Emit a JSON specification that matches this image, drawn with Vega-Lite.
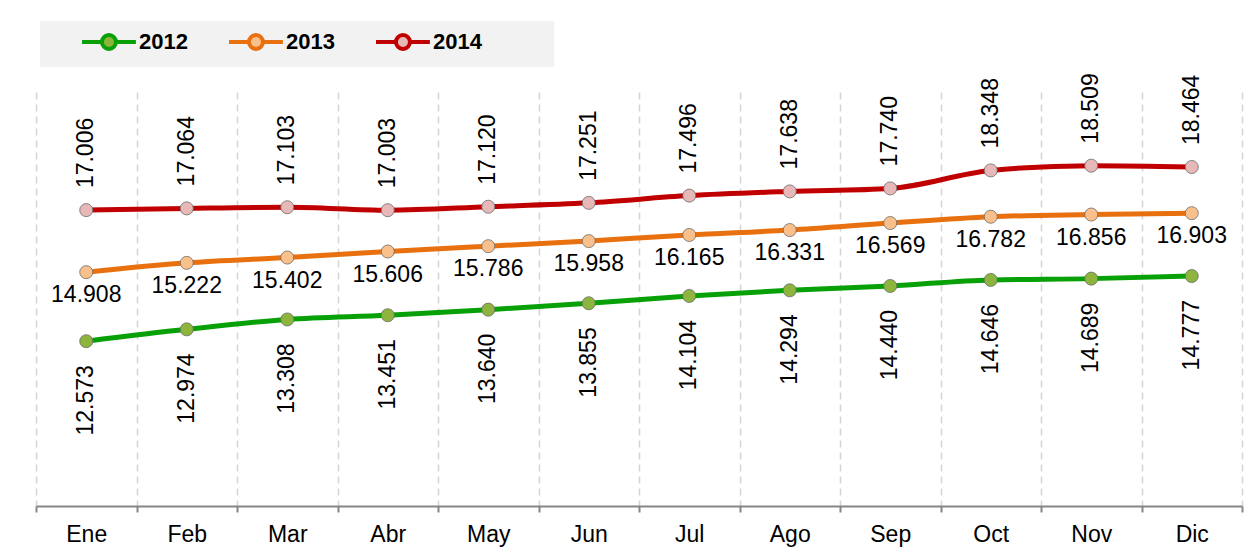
{
  "$schema": "https://vega.github.io/schema/vega-lite/v6.json",
  "autosize": {"type": "none"},
  "width": 1206,
  "height": 414,
  "padding": {"left": 36, "top": 92, "right": 5, "bottom": 53},
  "background": "white",
  "config": {
    "view": {"stroke": null},
    "font": "Liberation Sans",
    "axis": {
      "domainColor": "#868686", "domainWidth": 2,
      "tickColor": "#868686", "tickWidth": 2, "tickSize": 6,
      "gridColor": "#D4D4D4", "gridDash": [7, 5], "gridWidth": 1.5,
      "labelFont": "Liberation Sans", "labelFontSize": 23, "labelColor": "#000000",
      "labelPadding": 11
    }
  },
  "data": {
    "values": [
      {"month": "Ene", "year": "2012", "value": 12.573},
      {"month": "Feb", "year": "2012", "value": 12.974},
      {"month": "Mar", "year": "2012", "value": 13.308},
      {"month": "Abr", "year": "2012", "value": 13.451},
      {"month": "May", "year": "2012", "value": 13.640},
      {"month": "Jun", "year": "2012", "value": 13.855},
      {"month": "Jul", "year": "2012", "value": 14.104},
      {"month": "Ago", "year": "2012", "value": 14.294},
      {"month": "Sep", "year": "2012", "value": 14.440},
      {"month": "Oct", "year": "2012", "value": 14.646},
      {"month": "Nov", "year": "2012", "value": 14.689},
      {"month": "Dic", "year": "2012", "value": 14.777},
      {"month": "Ene", "year": "2013", "value": 14.908},
      {"month": "Feb", "year": "2013", "value": 15.222},
      {"month": "Mar", "year": "2013", "value": 15.402},
      {"month": "Abr", "year": "2013", "value": 15.606},
      {"month": "May", "year": "2013", "value": 15.786},
      {"month": "Jun", "year": "2013", "value": 15.958},
      {"month": "Jul", "year": "2013", "value": 16.165},
      {"month": "Ago", "year": "2013", "value": 16.331},
      {"month": "Sep", "year": "2013", "value": 16.569},
      {"month": "Oct", "year": "2013", "value": 16.782},
      {"month": "Nov", "year": "2013", "value": 16.856},
      {"month": "Dic", "year": "2013", "value": 16.903},
      {"month": "Ene", "year": "2014", "value": 17.006},
      {"month": "Feb", "year": "2014", "value": 17.064},
      {"month": "Mar", "year": "2014", "value": 17.103},
      {"month": "Abr", "year": "2014", "value": 17.003},
      {"month": "May", "year": "2014", "value": 17.120},
      {"month": "Jun", "year": "2014", "value": 17.251},
      {"month": "Jul", "year": "2014", "value": 17.496},
      {"month": "Ago", "year": "2014", "value": 17.638},
      {"month": "Sep", "year": "2014", "value": 17.740},
      {"month": "Oct", "year": "2014", "value": 18.348},
      {"month": "Nov", "year": "2014", "value": 18.509},
      {"month": "Dic", "year": "2014", "value": 18.464}
    ]
  },
  "encoding": {
    "x": {
      "field": "month", "type": "nominal",
      "sort": ["Ene", "Feb", "Mar", "Abr", "May", "Jun", "Jul", "Ago", "Sep", "Oct", "Nov", "Dic"],
      "scale": {"type": "band", "paddingInner": 0, "paddingOuter": 0},
      "bandPosition": 0.5,
      "axis": {"title": null, "labelAngle": 0, "tickBand": "extent", "grid": true}
    },
    "y": {
      "field": "value", "type": "quantitative",
      "scale": {"domain": [7, 21], "nice": false, "zero": false},
      "axis": null
    }
  },
  "layer": [
    {
      "mark": {"type": "line", "interpolate": "monotone", "strokeWidth": 5, "strokeCap": "round"},
      "encoding": {
        "stroke": {
          "field": "year", "type": "nominal",
          "scale": {"domain": ["2012", "2013", "2014"], "range": ["#07A007", "#E8700E", "#C00000"]},
          "legend": {
            "title": "\u00a0", "titleOrient": "right", "titlePadding": 62, "titleFontSize": 10,
            "orient": "none", "legendX": 4, "legendY": -71,
            "direction": "horizontal", "fillColor": "#F2F2F2", "padding": 10,
            "symbolType": "M3,0 L5.85,0 M7.85,0 L10.7,0 M7.85,0 A1,1 0 1,1 5.85,0 A1,1 0 1,1 7.85,0 Z",
            "symbolSize": 196, "symbolStrokeWidth": 4, "symbolOpacity": 1,
            "labelFont": "Liberation Sans", "labelFontSize": 22, "labelFontWeight": "bold", "labelColor": "#000000",
            "labelOffset": 67, "columnPadding": 9
          }
        }
      }
    },
    {
      "mark": {"type": "point", "filled": true, "size": 170, "opacity": 1, "stroke": "#6b6b6b", "strokeWidth": 0.8},
      "encoding": {
        "fill": {
          "field": "year", "type": "nominal",
          "scale": {"domain": ["2012", "2013", "2014"], "range": ["#8DB43C", "#F9C08C", "#E6B8B8"]},
          "legend": {
            "title": "\u00a0", "titleOrient": "right", "titlePadding": 62, "titleFontSize": 10,
            "orient": "none", "legendX": 4, "legendY": -71,
            "direction": "horizontal", "fillColor": "#F2F2F2", "padding": 10,
            "symbolType": "M3,0 L5.85,0 M7.85,0 L10.7,0 M7.85,0 A1,1 0 1,1 5.85,0 A1,1 0 1,1 7.85,0 Z",
            "symbolSize": 196, "symbolStrokeWidth": 4, "symbolOpacity": 1,
            "labelFont": "Liberation Sans", "labelFontSize": 22, "labelFontWeight": "bold", "labelColor": "#000000",
            "labelOffset": 67, "columnPadding": 9
          }
        }
      }
    },
    {
      "transform": [{"filter": "datum.year == '2014'"}],
      "mark": {"type": "text", "angle": 270, "align": "left", "baseline": "middle", "dx": 22, "fontSize": 23, "color": "#000000"},
      "encoding": {"text": {"field": "value", "type": "quantitative", "format": ".3f"}}
    },
    {
      "transform": [{"filter": "datum.year == '2012'"}],
      "mark": {"type": "text", "angle": 270, "align": "right", "baseline": "middle", "dx": -24, "fontSize": 23, "color": "#000000"},
      "encoding": {"text": {"field": "value", "type": "quantitative", "format": ".3f"}}
    },
    {
      "transform": [{"filter": "datum.year == '2013'"}],
      "mark": {"type": "text", "align": "center", "baseline": "top", "dy": 12, "fontSize": 23, "color": "#000000"},
      "encoding": {"text": {"field": "value", "type": "quantitative", "format": ".3f"}}
    }
  ]
}
